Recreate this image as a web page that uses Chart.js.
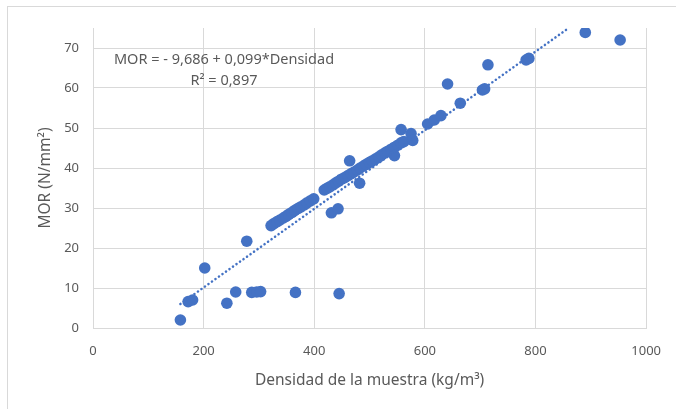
<!DOCTYPE html>
<html lang="es">
<head>
<meta charset="utf-8">
<title>MOR vs densidad</title>
<script src="https://cdn.jsdelivr.net/npm/chart.js@4.4.1/dist/chart.umd.min.js"></script>
<style>
  html, body { margin: 0; padding: 0; background: #ffffff; }
  .marco {
    position: absolute; left: 7px; top: 6px; width: 720px; height: 460px;
    border-left: 1px solid #d9d9d9; border-top: 1px solid #d9d9d9;
  }
  #grafico { position: absolute; left: 0; top: 0; }
</style>
</head>
<body>
<div class="marco"></div>
<canvas id="grafico" width="676" height="409"></canvas>
<script>
// ── Datos ──────────────────────────────────────────────────────
const densidad = [
  158, 172, 180, 202, 242, 258, 278, 287, 296, 303, 366, 445,
  322, 327, 333, 338, 344, 349, 354, 360, 365, 371, 376, 382, 387, 393, 399,
  418, 423, 428, 434, 439, 444, 449, 455, 461, 467, 472, 478, 483, 489, 494,
  500, 505, 511, 517, 522, 528, 533, 539, 545, 551, 557, 562,
  431, 443, 464, 482, 545, 557, 575, 578,
  605, 617, 629, 641, 664, 704, 708, 714, 783, 788, 890, 953,
];
const mor = [
  2.0, 6.6, 7.0, 15.0, 6.2, 9.0, 21.7, 8.9, 9.0, 9.1, 8.9, 8.6,
  25.6, 26.1, 26.6, 27.0, 27.5, 27.9, 28.4, 28.9, 29.4, 29.9, 30.3, 30.8, 31.3, 31.8, 32.3,
  34.5, 34.9, 35.3, 35.8, 36.3, 36.7, 37.2, 37.6, 38.1, 38.6, 39.0, 39.5, 40.0, 40.5, 40.9,
  41.4, 41.8, 42.3, 42.8, 43.3, 43.8, 44.2, 44.7, 45.2, 45.7, 46.3, 46.6,
  28.8, 29.8, 41.8, 36.2, 43.1, 49.6, 48.6, 46.9,
  51.0, 52.0, 53.1, 61.0, 56.2, 59.5, 59.8, 65.8, 67.0, 67.4, 73.9, 72.0,
];

// línea de tendencia (extremos)
const tendenciaX = [158, 860];
const tendenciaY = [6.0, 75.0];

const ecuacion = ['MOR = - 9,686 + 0,099*Densidad', 'R² = 0,897'];

const ticksX = [0, 200, 400, 600, 800, 1000];
const ticksY = [0, 10, 20, 30, 40, 50, 60, 70];

const AZUL  = '#4472C4';
const GRIS  = '#595959';
const LINEA = '#d9d9d9';
const FUENTE = "'Noto Sans', 'DejaVu Sans', sans-serif";

// ── Texto de la ecuación ───────────────────────────────────────
const textoEcuacion = {
  id: 'textoEcuacion',
  afterDraw(chart) {
    const { ctx } = chart;
    ctx.save();
    ctx.fillStyle = GRIS;
    ctx.font = `14.5px ${FUENTE}`;
    ctx.textAlign = 'center';
    ctx.textBaseline = 'middle';
    ctx.fillText(ecuacion[0], 224, 60);
    ctx.fillText(ecuacion[1], 224, 81);
    ctx.restore();
  },
};

const puntos = densidad.map((x, i) => ({ x, y: mor[i] }));
const tendencia = tendenciaX.map((x, i) => ({ x, y: tendenciaY[i] }));

new Chart(document.getElementById('grafico'), {
  type: 'scatter',
  data: {
    datasets: [
      {
        type: 'line',
        data:            tendencia,
        borderColor:     AZUL,
        borderWidth:     2.5,
        borderDash:      [0.1, 4.2],
        borderCapStyle:  'round',
        pointRadius:     0,
        fill:            false,
      },
      {
        data:            puntos,
        backgroundColor: AZUL,
        borderColor:     AZUL,
        borderWidth:     0,
        pointRadius:     5.8,
        pointHoverRadius: 5.8,
      },
    ],
  },
  options: {
    responsive: false,
    animation:  false,
    layout: { padding: { left: 0, top: 28, right: 28, bottom: 0 } },
    plugins: {
      legend:  { display: false },
      tooltip: { enabled: false },
    },
    scales: {
      x: {
        type: 'linear',
        min: 0,
        max: 1000,
        afterFit: (s) => { s.height = 81; },
        afterBuildTicks: (s) => { s.ticks = ticksX.map((v) => ({ value: v })); },
        grid:   { color: LINEA, lineWidth: 1, drawTicks: false },
        border: { color: LINEA, width: 1 },
        ticks: {
          color:    GRIS,
          padding:  15,
          font:     { family: FUENTE, size: 13 },
          callback: (v) => String(v),
        },
        title: {
          display: true,
          text:    'Densidad de la muestra (kg/m³)',
          color:   GRIS,
          font:    { family: FUENTE, size: 15.5 },
          padding: { top: 0, bottom: 19 },
        },
      },
      y: {
        type: 'linear',
        min: 0,
        max: 75,
        afterFit: (s) => { s.width = 93; },
        afterBuildTicks: (s) => { s.ticks = ticksY.map((v) => ({ value: v })); },
        grid:   { color: LINEA, lineWidth: 1, drawTicks: false },
        border: { color: LINEA, width: 1 },
        ticks: {
          color:    GRIS,
          padding:  14,
          font:     { family: FUENTE, size: 13 },
          callback: (v) => String(v),
        },
        title: {
          display: true,
          text:    'MOR (N/mm²)',
          color:   GRIS,
          font:    { family: FUENTE, size: 15.5 },
          padding: { top: 36, bottom: 0 },
        },
      },
    },
  },
  plugins: [textoEcuacion],
});
</script>
</body>
</html>
